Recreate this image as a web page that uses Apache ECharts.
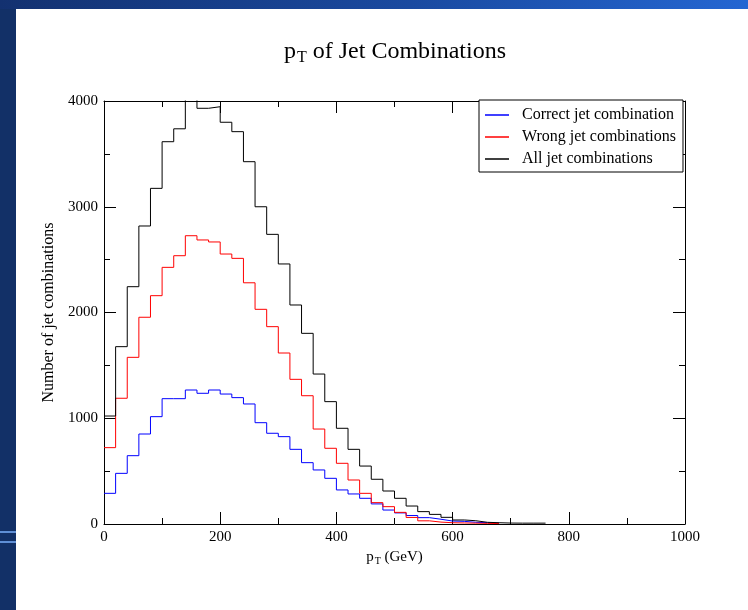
<!DOCTYPE html>
<html lang="en">
<head>
    <meta charset="UTF-8">
    <title>pT of Jet Combinations</title>
    <script src="https://cdn.jsdelivr.net/npm/echarts@6/dist/echarts.min.js"></script>
    <style>
        html, body { margin: 0; padding: 0; }
        body {
            width: 748px; height: 610px; position: relative; overflow: hidden;
            background: linear-gradient(90deg, #133170 0%, #1a4aa0 55%, #2466d2 100%);
        }
        .sheet {
            position: absolute; left: 16px; top: 9px; right: 0; bottom: 0;
            background: #ffffff;
        }
        .strip { position: absolute; left: 0; width: 16px; background: #123067; top: 9px; bottom: 0; }
        .stripe { position: absolute; left: 0; width: 16px; height: 2px; background: #5f8fd6; }
        #chart { position: absolute; left: 0; top: 0; width: 748px; height: 610px; }
    </style>
</head>
<body>
    <div class="strip"></div>
    <div class="stripe" style="top:531px"></div>
    <div class="stripe" style="top:541px"></div>
    <div class="sheet"></div>
    <div id="chart"></div>

    <script>
        // histogram bins, 20 GeV wide, left edges from 0
        const binWidth = 20;

        const correctJets = [290, 479, 646, 851, 1015, 1185, 1185, 1267, 1236, 1267,
            1229, 1195, 1135, 958, 858, 826, 706, 580, 511, 432,
            322, 284, 243, 190, 132, 105, 80, 60, 45, 28,
            25, 16, 12, 8];

        const wrongJets = [722, 1189, 1576, 1955, 2159, 2427, 2537, 2726, 2686, 2667,
            2553, 2512, 2281, 2030, 1866, 1617, 1368, 1213, 898, 716,
            574, 416, 290, 202, 164, 110, 62, 30, 18, 12,
            10, 8, 6, 4];

        const allJets = [1021, 1677, 2244, 2818, 3174, 3615, 3737, 4050, 3931, 3946,
            3799, 3710, 3426, 3000, 2739, 2459, 2071, 1803, 1418, 1157,
            905, 706, 548, 423, 312, 243, 170, 117, 91, 63,
            38, 31, 16, 12, 9, 8, 8, 8];

        const seriesNames = ['Correct jet combination', 'Wrong jet combinations', 'All jet combinations'];
        const seriesColors = ['#0000ff', '#ff0000', '#000000'];

        // turn bin contents into step points (left edge + closing right edge)
        function toSteps(values) {
            const pts = values.map((v, i) => [i * binWidth, v]);
            pts.push([values.length * binWidth, values[values.length - 1]]);
            return pts;
        }

        const serif = 'Liberation Serif';
        const plain = v => String(v);

        const frameAxis = {
            min: 0,
            axisLine: { show: true, onZero: false, lineStyle: { color: '#000', width: 1 } },
            axisTick: { show: true, inside: true, length: 12, lineStyle: { color: '#000' } },
            minorTick: { show: true, splitNumber: 2, length: 6, lineStyle: { color: '#000' } },
            splitLine: { show: false },
            minorSplitLine: { show: false }
        };

        const chart = echarts.init(document.getElementById('chart'), null, { renderer: 'canvas' });

        const option = {
            backgroundColor: 'transparent',
            animation: false,
            title: {
                text: '{p|p}{s|T}{r| of Jet Combinations}',
                left: 390,
                textAlign: 'center',
                top: 32,
                textStyle: {
                    fontWeight: 'normal',
                    rich: {
                        p: { fontFamily: serif, fontSize: 24, fontWeight: 'normal', color: '#000', lineHeight: 30 },
                        s: { fontFamily: serif, fontSize: 16, fontWeight: 'normal', color: '#000', lineHeight: 30, padding: [12, 0, 0, 1] },
                        r: { fontFamily: serif, fontSize: 24, fontWeight: 'normal', color: '#000', lineHeight: 30 }
                    }
                }
            },
            grid: { left: 104, right: 63, top: 101, bottom: 86, containLabel: false },
            legend: {
                orient: 'vertical',
                left: 479,
                top: 100,
                padding: [7, 7, 5, 6],
                itemGap: 6,
                itemWidth: 24,
                itemHeight: 1.5,
                icon: 'rect',
                borderColor: '#000',
                borderWidth: 1,
                backgroundColor: '#fff',
                textStyle: { fontFamily: serif, fontSize: 16, color: '#000', padding: [0, 0, 0, 8] },
                data: seriesNames
            },
            xAxis: [
                Object.assign({}, frameAxis, {
                    type: 'value', max: 1000, interval: 200, position: 'bottom',
                    name: '{p|p}{s|T}{r| (GeV)}',
                    nameLocation: 'middle',
                    nameGap: 24,
                    nameTextStyle: {
                        rich: {
                            p: { fontFamily: serif, fontSize: 15, color: '#000' },
                            s: { fontFamily: serif, fontSize: 10, color: '#000', padding: [8, 0, 0, 1] },
                            r: { fontFamily: serif, fontSize: 15, color: '#000' }
                        }
                    },
                    axisLabel: { fontFamily: serif, fontSize: 15, color: '#000', margin: 6, formatter: plain }
                }),
                Object.assign({}, frameAxis, {
                    type: 'value', max: 1000, interval: 200, position: 'top',
                    axisLabel: { show: false }
                })
            ],
            yAxis: [
                Object.assign({}, frameAxis, {
                    type: 'value', max: 4000, interval: 1000, position: 'left',
                    name: 'Number of jet combinations',
                    nameLocation: 'middle',
                    nameGap: 40,
                    nameTextStyle: { fontFamily: serif, fontSize: 16, color: '#000' },
                    axisLabel: { fontFamily: serif, fontSize: 15, color: '#000', margin: 6, formatter: plain }
                }),
                Object.assign({}, frameAxis, {
                    type: 'value', max: 4000, interval: 1000, position: 'right',
                    axisLabel: { show: false }
                })
            ],
            series: [correctJets, wrongJets, allJets].map((vals, i) => ({
                name: seriesNames[i],
                type: 'line',
                step: 'end',
                xAxisIndex: 0,
                yAxisIndex: 0,
                symbol: 'none',
                clip: true,
                color: seriesColors[i],
                lineStyle: { color: seriesColors[i], width: 1 },
                data: toSteps(vals)
            }))
        };

        chart.setOption(option);
    </script>
</body>
</html>
